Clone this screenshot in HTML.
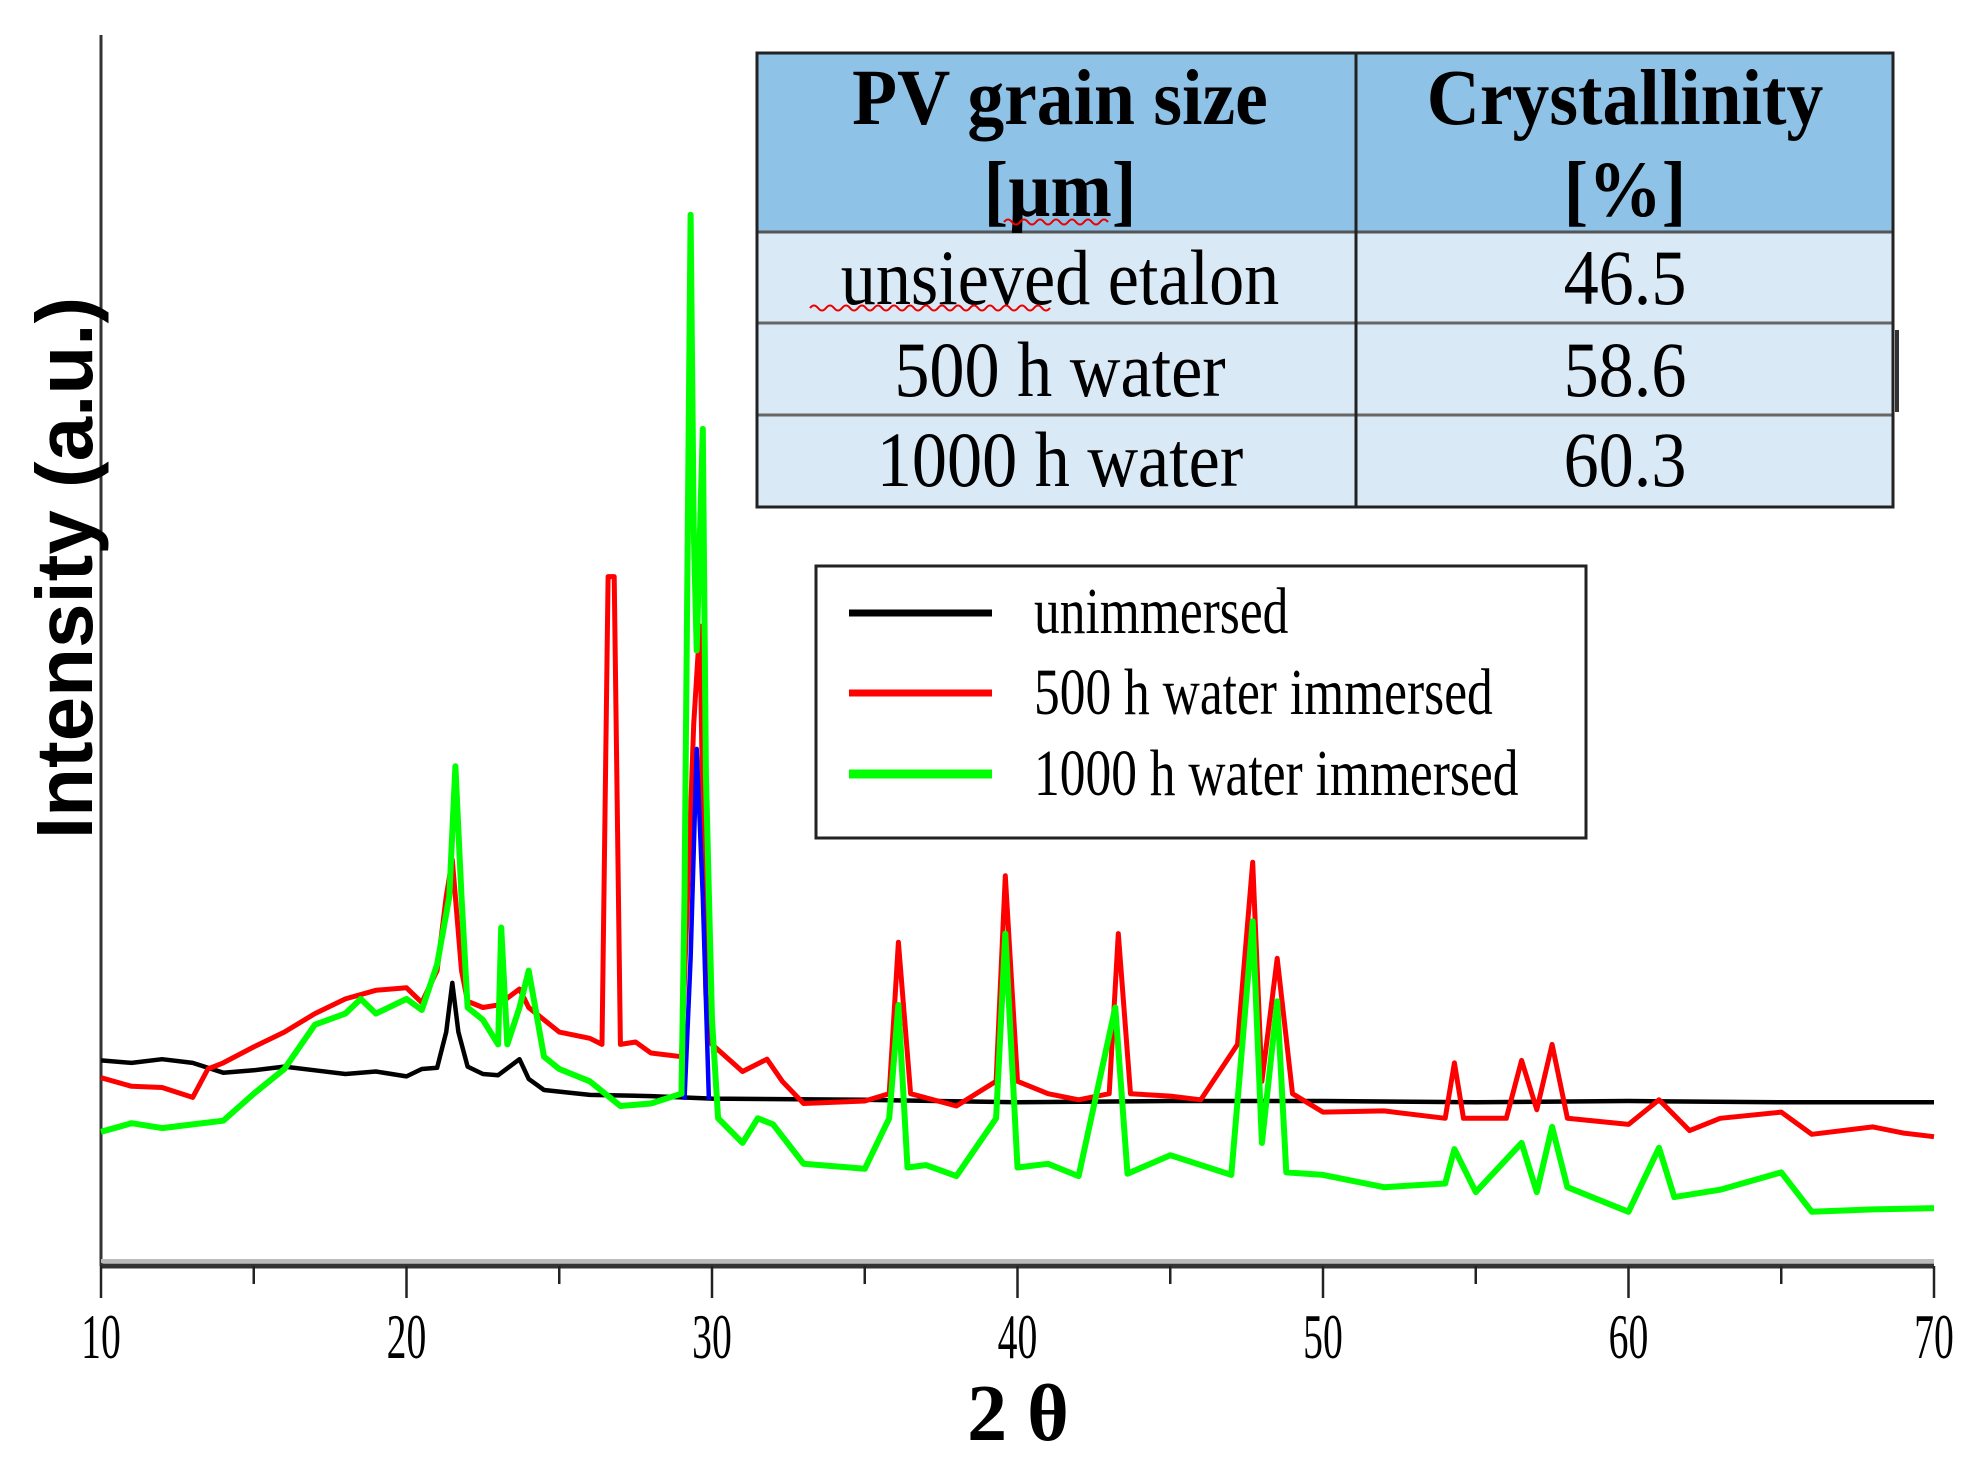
<!DOCTYPE html>
<html><head><meta charset="utf-8"><style>
html,body{margin:0;padding:0;background:#fff;width:1977px;height:1469px;overflow:hidden}
svg{display:block}
</style></head><body>
<svg id="chart" width="1977" height="1469" viewBox="0 0 1977 1469" xmlns="http://www.w3.org/2000/svg">
<g id="axes"></g>
<g id="series"></g>
<text transform="translate(92,568) rotate(-90)" text-anchor="middle" font-family="Liberation Sans, sans-serif" font-weight="bold" font-size="80">Intensity (a.u.)</text>
<text x="1018" y="1440" text-anchor="middle" font-family="Liberation Serif, serif" font-weight="bold" font-size="80">2 θ</text>
<g font-family="Liberation Serif, serif" text-anchor="middle">
<rect x="757" y="53" width="1136" height="179" fill="#8ec2e6"/>
<rect x="757" y="232" width="1136" height="275" fill="#d9e9f6"/>
<line x1="757" y1="232" x2="1893" y2="232" stroke="#555" stroke-width="3"/>
<line x1="757" y1="323" x2="1893" y2="323" stroke="#666" stroke-width="3"/>
<line x1="757" y1="415" x2="1893" y2="415" stroke="#666" stroke-width="3"/>
<line x1="1356" y1="53" x2="1356" y2="507" stroke="#222" stroke-width="3"/>
<rect x="757" y="53" width="1136" height="454" fill="none" stroke="#222" stroke-width="3"/>
<line x1="1897" y1="330" x2="1897" y2="412" stroke="#333" stroke-width="4"/>
<g transform="translate(1060 0) scale(0.92 1) translate(-1060 0)">
<text x="1060" y="124" font-size="80" font-weight="bold">PV grain size</text>
<text x="1060" y="216" font-size="80" font-weight="bold">[µm]</text>
</g>
<g transform="translate(1625 0) scale(0.92 1) translate(-1625 0)">
<text x="1625" y="124" font-size="80" font-weight="bold">Crystallinity</text>
<text x="1625" y="216" font-size="80" font-weight="bold">[%]</text>
</g>
<g transform="translate(1060 0) scale(0.9 1) translate(-1060 0)">
<text x="1060" y="304" font-size="78">unsieved etalon</text>
<text x="1060" y="396" font-size="78">500 h water</text>
<text x="1060" y="486" font-size="78">1000 h water</text>
</g>
<g transform="translate(1625 0) scale(0.9 1) translate(-1625 0)">
<text x="1625" y="304" font-size="78">46.5</text>
<text x="1625" y="396" font-size="78">58.6</text>
<text x="1625" y="486" font-size="78">60.3</text>
</g>
<path d="M1004 222 q4 -5 8 0 t8 0 t8 0 t8 0 t8 0 t8 0 t8 0 t8 0 t8 0 t8 0 t8 0 t8 0 t8 0" fill="none" stroke="#e00" stroke-width="2"/>
<path d="M810 308 q4 -5 8 0 t8 0 t8 0 t8 0 t8 0 t8 0 t8 0 t8 0 t8 0 t8 0 t8 0 t8 0 t8 0 t8 0 t8 0 t8 0 t8 0 t8 0 t8 0 t8 0 t8 0 t8 0 t8 0 t8 0 t8 0 t8 0 t8 0 t8 0 t8 0 t8 0" fill="none" stroke="#e00" stroke-width="2"/>
</g>
<g font-family="Liberation Serif, serif" font-size="66">
<rect x="816" y="566" width="770" height="272" fill="#fff" stroke="#222" stroke-width="3"/>
<g><line x1="849" y1="613" x2="992" y2="613" stroke="#000" stroke-width="7"/><text x="1034" y="633" transform="translate(1034 0) scale(0.78 1) translate(-1034 0)">unimmersed</text></g>
<g><line x1="849" y1="693" x2="992" y2="693" stroke="#f00" stroke-width="7"/><text x="1034" y="714" transform="translate(1034 0) scale(0.78 1) translate(-1034 0)">500 h water immersed</text></g>
<g><line x1="849" y1="774" x2="992" y2="774" stroke="#0f0" stroke-width="9"/><text x="1034" y="795" transform="translate(1034 0) scale(0.78 1) translate(-1034 0)">1000 h water immersed</text></g>
</g>
<script>
const xTicks = [10,20,30,40,50,60,70];
const xMinor = [15,25,35,45,55,65];
const blackX = [10,11,12,13,14,15,16,17,18,19,20,20.5,21,21.3,21.5,21.7,22,22.5,23,23.7,24,24.5,26,28,30,35,40,45,50,55,60,65,70];
const blackY = [16.7,16.5,16.8,16.5,15.7,15.9,16.2,15.9,15.6,15.8,15.4,16,16.1,19,23,19,16.2,15.6,15.5,16.8,15.2,14.3,13.9,13.8,13.6,13.5,13.3,13.4,13.4,13.3,13.4,13.3,13.3];
const redX = [10,11,12,13,13.5,14,15,16,17,18,19,20,20.5,21,21.3,21.5,21.8,22,22.5,23,23.7,24,24.5,25,26,26.4,26.6,26.8,27,27.5,28,29,29.2,29.4,29.6,29.8,30,31,31.8,32.3,33,35,35.8,36.1,36.5,38,39.3,39.6,40,41,42,43,43.3,43.7,45,46,47.2,47.7,48,48.5,49,50,52,54,54.3,54.6,56,56.5,57,57.5,58,60,61,62,63,65,66,68,69,70];
const redY = [15.3,14.6,14.5,13.7,16,16.5,17.8,19,20.5,21.7,22.4,22.6,21.4,24,30,33,24,21.5,21,21.2,22.5,21,20,19,18.5,18,56,56,18,18.2,17.3,17,30,44,52,22,18,15.8,16.8,15,13.2,13.4,14,26.3,14,13,15,31.7,15,14,13.5,14,27,14,13.8,13.5,18,32.8,15,25,14,12.5,12.6,12,16.5,12,12,16.7,12.7,18,12,11.5,13.5,11,12,12.5,10.7,11.3,10.8,10.5];
const greenX = [10,11,12,13,14,15,16,17,18,18.5,19,20,20.5,21,21.4,21.6,21.8,22,22.5,23,23.1,23.3,23.7,24,24.5,25,26,27,28,29,29.1,29.3,29.4,29.5,29.7,29.8,30,30.2,31,31.5,32,33,34,35,35.8,36.1,36.4,37,38,39.3,39.6,40,41,42,43.2,43.6,45,47,47.7,48,48.5,48.8,50,52,54,54.3,55,56.5,57,57.5,58,60,61,61.5,63,65,66,68,70];
const greenY = [10.9,11.6,11.2,11.5,11.8,14,16,19.6,20.5,21.7,20.5,21.7,20.8,24.5,30,40.6,30,21,20,18,27.5,18,21,24,17,16,15,13,13.2,14,30,85.4,60,50,68,40,20,12,10,12,11.5,8.3,8.1,7.9,12,21.2,8,8.2,7.3,12,27,8,8.3,7.3,21,7.5,9,7.4,28,10,21.5,7.6,7.4,6.4,6.7,9.5,6,10,6,11.3,6.4,4.4,9.6,5.6,6.2,7.6,4.4,4.6,4.7];
const blueX = [29.1,29.3,29.5,29.7,29.9];
const blueY = [13.5,25,42,30,13.5];

const NS = 'http://www.w3.org/2000/svg';
const X0 = 101, X1 = 1934, YB = 1266, YT = 35;
function xs(v){ return X0 + (v - 10) * (X1 - X0) / 60; }
function ys(v){ return YB - v * (YB - YT) / 100; }

const axes = document.getElementById('axes');
function mk(tag, attrs, parent){ const e = document.createElementNS(NS, tag); for (const k in attrs) e.setAttribute(k, attrs[k]); parent.appendChild(e); return e; }

const yAxis = mk('line', {x1:X0, y1:YT, x2:X0, y2:YB, stroke:'#333', 'stroke-width':3}, axes);


mk('line', {x1:X0, y1:YB-5, x2:X1, y2:YB-5, stroke:'#bbb', 'stroke-width':4}, axes);
const xAxis = mk('line', {x1:X0, y1:YB, x2:X1, y2:YB, stroke:'#333', 'stroke-width':5}, axes);



xTicks.forEach(t => {
  const tk = mk('line', {x1:xs(t), y1:YB, x2:xs(t), y2:YB+32, stroke:'#222', 'stroke-width':2.5}, axes);
  
  
  const lb = mk('text', {x:xs(t), y:1358, 'text-anchor':'middle', 'font-family':'Liberation Serif, serif', 'font-size':64, transform:'translate('+xs(t)+' 0) scale(0.62 1) translate('+(-xs(t))+' 0)'}, axes);
  lb.textContent = String(t);
  
  
});
xMinor.forEach(t => {
  const tk = mk('line', {x1:xs(t), y1:YB, x2:xs(t), y2:YB+18, stroke:'#222', 'stroke-width':2.5}, axes);
  
  
});

const series = document.getElementById('series');
function drawLine(xArr, yArr, color, w, name){
  const d = xArr.map((x,i) => (i ? 'L' : 'M') + xs(x).toFixed(1) + ' ' + ys(yArr[i]).toFixed(1)).join(' ');
  const p = mk('path', {d:d, fill:'none', stroke:color, 'stroke-width':w, 'stroke-linejoin':'round'}, series);
  
  
}
drawLine(blackX, blackY, '#000', 4.5, 'series-unimmersed');
drawLine(redX, redY, '#f00', 5, 'series-500h-water');
drawLine(blueX, blueY, '#00f', 4.5, 'series-blue');
drawLine(greenX, greenY, '#0f0', 6, 'series-1000h-water');
</script>
</svg>
</body></html>
